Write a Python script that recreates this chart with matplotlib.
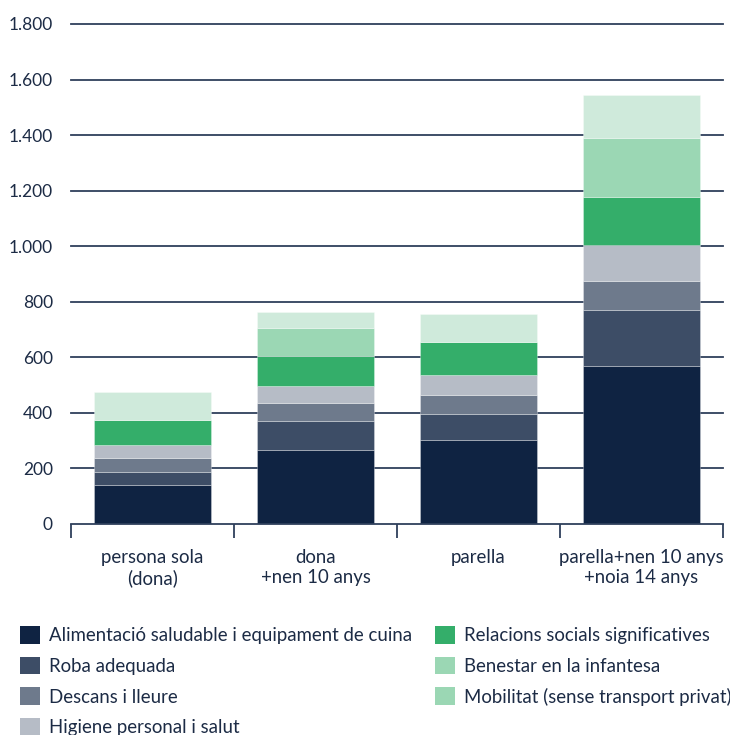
import matplotlib
matplotlib.use("Agg")
import matplotlib.pyplot as plt
from matplotlib.patches import Patch
import numpy as np

plt.rcParams['font.family'] = ['Lato', 'DejaVu Sans']

# categories and values (EUR / month)
households = ["persona sola\n(dona)", "dona\n+nen 10 anys", "parella", "parella+nen 10 anys\n+noia 14 anys"]
components = ["Alimentació saludable i equipament de cuina", "Roba adequada", "Descans i lleure",
              "Higiene personal i salut", "Relacions socials significatives",
              "Benestar en la infantesa", "Mobilitat (sense transport privat)"]
alimentacio = [139, 266, 302, 570]
roba = [48, 105, 94, 200]
descans = [51, 65, 68, 106]
higiene = [45, 61, 71, 130]
relacions = [91, 108, 120, 170]
benestar = [0, 101, 0, 214]
mobilitat = [101, 57, 101, 156]
yticks = [0, 200, 400, 600, 800, 1000, 1200, 1400, 1600, 1800]
ytick_labels = ["0", "200", "400", "600", "800", "1.000", "1.200", "1.400", "1.600", "1.800"]

series = [alimentacio, roba, descans, higiene, relacions, benestar, mobilitat]
bar_colors = ["#0f2342", "#3d4d66", "#6e7a8c", "#b6bcc6", "#34ae6a", "#9bd7b4", "#cfeadb"]
legend_colors = ["#0f2342", "#3d4d66", "#6e7a8c", "#b6bcc6", "#34ae6a", "#9bd7b4", "#9bd7b4"]
text_col = "#1c2b45"
grid_col = "#2f405c"

fig = plt.figure(figsize=(7.3, 7.35), dpi=100)
ax = fig.add_axes([71/730, 1-524/735, (723-71)/730, 500/735])

x = np.arange(len(households))
bottom = np.zeros(len(households))
for vals, col, name in zip(series, bar_colors, components):
    ax.bar(x, vals, 0.72, bottom=bottom, color=col, edgecolor=(1, 1, 1, 0.35), linewidth=0.6, zorder=3)
    bottom += np.array(vals)

ax.set_xlim(-0.5, 3.5)
ax.set_ylim(0, 1800)
ax.set_yticks(yticks)
ax.set_yticklabels(ytick_labels)
for yv in yticks[1:]:
    ax.axhline(yv, color=grid_col, lw=1.3, zorder=1, clip_on=False)

for s in ["top", "right", "left"]:
    ax.spines[s].set_visible(False)
ax.spines["bottom"].set_color(grid_col)
ax.spines["bottom"].set_linewidth(1.3)
ax.spines["bottom"].set_zorder(4)

ax.set_xticks(x)
ax.set_xticklabels(households)
ax.set_xticks(np.arange(-0.5, 4, 1), minor=True)
ax.tick_params(axis="x", which="major", length=0, pad=18, labelsize=13.4, labelcolor=text_col)
ax.tick_params(axis="x", which="minor", length=10, width=1.3, color=grid_col)
ax.tick_params(axis="y", length=0, pad=13, labelsize=12.5, labelcolor=text_col)

handles = [Patch(facecolor=c, edgecolor="none") for c in legend_colors]
fig.legend(handles, components, loc="upper left", bbox_to_anchor=(20/730, 1-626/735), ncol=2,
           frameon=False, fontsize=13.4, handlelength=1.07, handleheight=1.07, handletextpad=0.5,
           labelspacing=0.68, columnspacing=1.2, borderpad=0, borderaxespad=0, labelcolor=text_col)

fig.savefig("out.png", dpi=100)
